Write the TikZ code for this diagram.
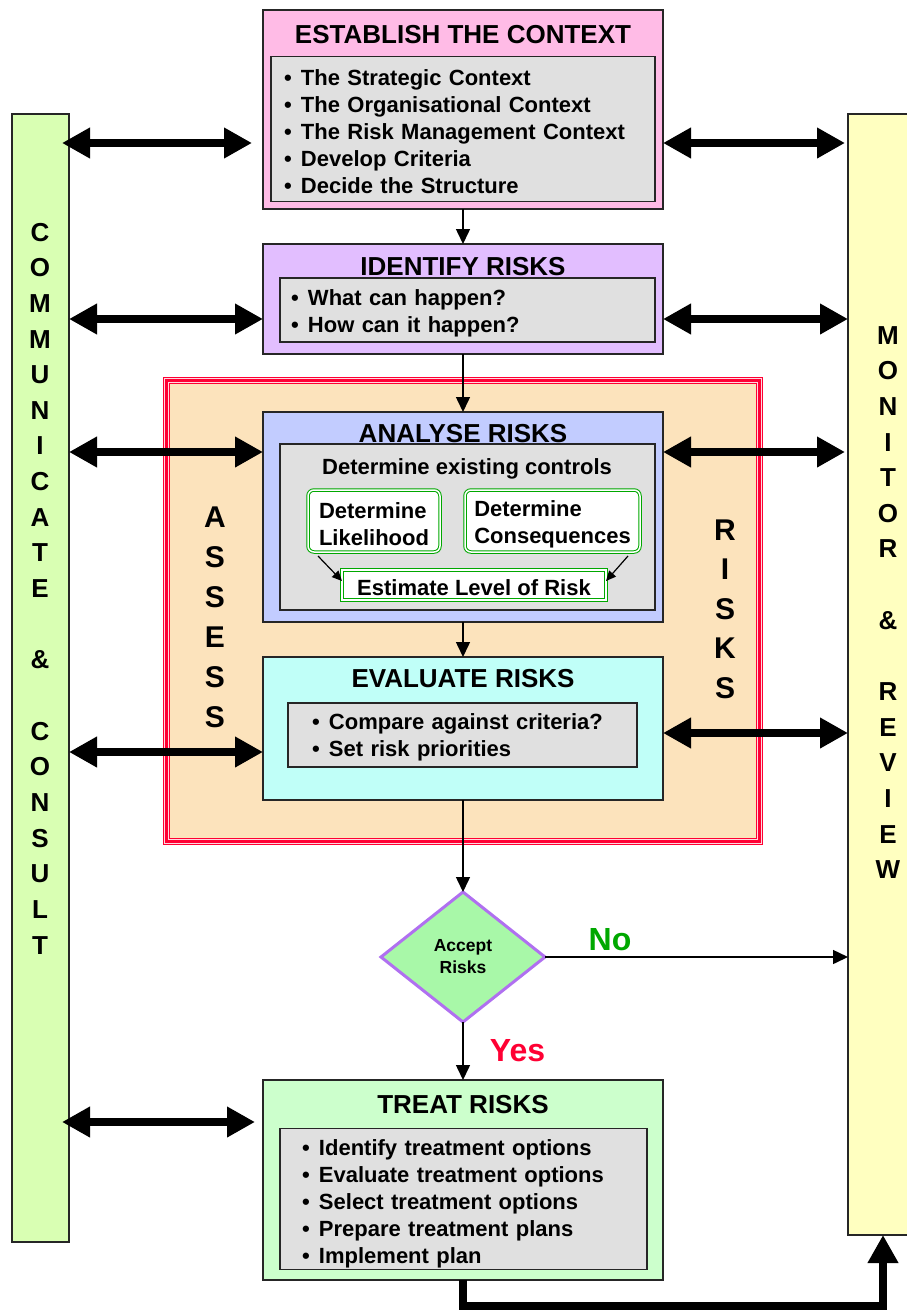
\documentclass[tikz,border=0pt]{standalone}
\usepackage{fontspec}
\setmainfont{Liberation Sans}
\usetikzlibrary{arrows.meta}
\usetikzlibrary{shapes.geometric}
\usetikzlibrary{positioning}
\definecolor{EstPink}{HTML}{FFBBE6}
\definecolor{IdLilac}{HTML}{E2BEFF}
\definecolor{AnBlue}{HTML}{C2CCFF}
\definecolor{EvCyan}{HTML}{C0FFF8}
\definecolor{TrGreen}{HTML}{CCFFCC}
\definecolor{AsBeige}{HTML}{FCE3BC}
\definecolor{ListGray}{HTML}{E0E0E0}
\definecolor{ComGreen}{HTML}{D9FFB3}
\definecolor{MonYellow}{HTML}{FFFFC0}
\definecolor{FrameRed}{HTML}{FF0033}
\definecolor{DiaGreen}{HTML}{A8F8A8}
\definecolor{DiaPurple}{HTML}{B070F0}
\definecolor{BoxGreen}{HTML}{00A800}
\newcommand{\bul}{\makebox[17pt][l]{\textbullet}}

\begin{document}
\begin{tikzpicture}[x=1pt, y=-1pt,
  every node/.style={outer sep=0pt},
  stage/.style={rectangle, draw=black!85, line width=1.5pt, inner sep=0pt},
  title/.style={font=\fontsize{26}{30}\selectfont\bfseries},
  listbox/.style={rectangle, draw=black!85, line width=1.5pt, fill=ListGray, inner ysep=0pt, align=left, font=\fontsize{22}{27}\selectfont\bfseries},
  stepbox/.style={rectangle, rounded corners=6pt, draw=BoxGreen, double=white, double distance=1.5pt, line width=1pt, align=left, font=\fontsize{22}{27}\selectfont\bfseries},
  column/.style={rectangle, draw=black!85, line width=1.2pt},
  vletters/.style={align=center, font=\fontsize{26}{35.65}\selectfont\bfseries},
  bigletters/.style={align=center, font=\fontsize{30}{40}\selectfont\bfseries},
  twoway/.style={line width=8pt, >={Triangle[length=28pt,width=29pt]}, <->},
  flow/.style={line width=1.5pt, -{Triangle[length=15pt,width=14pt]}},
  smallflow/.style={line width=1.2pt, -{Triangle[length=10pt,width=9pt]}}]
  \useasboundingbox (0,0) rectangle (906,1314);
  % side columns:
  \node [column, fill=ComGreen, minimum width=57pt, minimum height=1128pt] (com) at (40.5,678) {};
  \node [column, fill=MonYellow, minimum width=70pt, minimum height=1121pt] (mon) at (883,674.5) {};
  \node [vletters] (com-text) at (40,588.5) {C\\O\\M\\M\\U\\N\\I\\C\\A\\T\\E\\~\\\&\\~\\C\\O\\N\\S\\U\\L\\T};
  \node [vletters] (mon-text) at (888,602.5) {M\\O\\N\\I\\T\\O\\R\\~\\\&\\~\\R\\E\\V\\I\\E\\W};
  %
  % assess frame:
  \node [rectangle, fill=AsBeige, draw=FrameRed, line width=7pt, minimum width=593pt, minimum height=461pt] (frame) at (463,611) {};
  \draw [FrameRed!15, line width=0.7pt] ([shift={(-1.7,-1.7)}]frame.north west) rectangle ([shift={(1.7,1.7)}]frame.south east);
  \draw [FrameRed!15, line width=0.7pt] ([shift={(1.7,1.7)}]frame.north west) rectangle ([shift={(-1.7,-1.7)}]frame.south east);
  \node [bigletters] (assess-text) at (215,617) {A\\S\\S\\E\\S\\S};
  \node [bigletters, font=\fontsize{30}{39.5}\selectfont\bfseries] (risks-text) at (725,609) {R\\I\\S\\K\\S};
  %
  % establish:
  \node [stage, fill=EstPink, minimum width=400pt, minimum height=199pt] (est) at (463,109.5) {};
  \node [title] (est-title) at (463,35) {ESTABLISH THE CONTEXT};
  \node [listbox, minimum width=384pt, minimum height=145pt, text width=358pt, inner xsep=13pt] (est-list) at (463,129) {\rule{0pt}{22pt}\bul The Strategic Context\\ \bul The Organisational Context\\ \bul The Risk Management Context\\ \bul Develop Criteria\\ \bul Decide the Structure};
  %
  % identify:
  \node [stage, fill=IdLilac, minimum width=400pt, minimum height=110pt] (idf) at (463,299) {};
  \node [title] (idf-title) at (463,267) {IDENTIFY RISKS};
  \node [listbox, minimum width=375pt, minimum height=64pt, text width=353pt, inner xsep=11pt] (idf-list) at (467.5,310) {\rule{0pt}{22pt}\bul What can happen?\\ \bul How can it happen?};
  %
  % analyse:
  \node [stage, fill=AnBlue, minimum width=400pt, minimum height=210pt] (ana) at (463,517) {};
  \node [title] (ana-title) at (463,434) {ANALYSE RISKS};
  \node [listbox, minimum width=375pt, minimum height=166pt] (ana-list) at (467.5,527) {};
  \node [font=\fontsize{22}{27}\selectfont\bfseries] (controls) at (467,468.5) {Determine existing controls};
  \node [stepbox, fill=white, minimum width=132pt, minimum height=62pt] (lik) at (374,521) {\rule{0pt}{22pt}Determine\\Likelihood};
  \node [stepbox, fill=white, minimum width=175pt, minimum height=62pt] (con) at (552.5,521) {\rule{0pt}{22pt}Determine\\Consequences};
  \node [stepbox, sharp corners, fill=white, minimum width=264pt, minimum height=30pt, inner ysep=0pt] (estm) at (474,585) {\rule{0pt}{22pt}Estimate Level of Risk};
  \draw [smallflow] ([xshift=10pt,yshift=-4pt]lik.south west) -- ([yshift=4pt]estm.west);
  \draw [smallflow] ([xshift=-12pt,yshift=-4pt]con.south east) -- ([yshift=4pt]estm.east);
  %
  % evaluate:
  \node [stage, fill=EvCyan, minimum width=400pt, minimum height=143pt] (eva) at (463,728.5) {};
  \node [title] (eva-title) at (463,679) {EVALUATE RISKS};
  \node [listbox, minimum width=349pt, minimum height=64pt, text width=301pt, inner xsep=24pt] (eva-list) at (462.5,735) {\rule{0pt}{20pt}\bul Compare against criteria?\\ \bul Set risk priorities};
  %
  % decision:
  \node [diamond, fill=DiaGreen, draw=DiaPurple, line width=3pt, inner sep=0pt, minimum width=164pt, minimum height=130pt, align=center, font=\fontsize{17.5}{22}\selectfont\bfseries] (acc) at (463,957) {Accept\\Risks};
  \node [font=\fontsize{32}{36}\selectfont\bfseries, text=BoxGreen] (no-label) at (610,940) {No};
  \node [font=\fontsize{32}{36}\selectfont\bfseries, text=FrameRed] (yes-label) at (517.5,1051) {Yes};
  %
  % treat:
  \node [stage, fill=TrGreen, minimum width=400pt, minimum height=200pt] (trt) at (463,1180) {};
  \node [title] (trt-title) at (463,1105) {TREAT RISKS};
  \node [listbox, minimum width=367pt, minimum height=141pt, text width=323pt, inner xsep=22pt] (trt-list) at (463.5,1199) {\rule{0pt}{25pt}\bul Identify treatment options\\ \bul Evaluate treatment options\\ \bul Select treatment options\\ \bul Prepare treatment plans\\ \bul Implement plan};
  %
  % flow arrows:
  \draw [flow] (est.south) -- (idf.north);
  \draw [flow] (idf.south) -- (ana.north);
  \draw [flow] (ana.south) -- (eva.north);
  \draw [flow] (eva.south) -- (acc.north);
  \draw [flow] (acc.south) -- (trt.north);
  \draw [flow] (acc.east) -- (acc.east -| mon.west);
  \draw [line width=8pt, -{Triangle[length=28pt,width=29pt]}] (trt.south) -- ++(0,26) -| (mon.south);
  %
  % two-way arrows:
  \coordinate (row1) at (0,143);
  \coordinate (row2) at (0,319);
  \coordinate (row3) at (0,452);
  \coordinate (row4) at (0,752);
  \coordinate (row4r) at (0,733);
  \coordinate (row5) at (0,1122);
  \draw [twoway, shorten <=-7pt, shorten >=11pt] (com.east |- row1) -- (est.west |- row1);
  \draw [twoway] (com.east |- row2) -- (idf.west |- row2);
  \draw [twoway] (com.east |- row3) -- (ana.west |- row3);
  \draw [twoway] (com.east |- row4) -- (eva.west |- row4);
  \draw [twoway, shorten <=-7pt, shorten >=8pt] (com.east |- row5) -- (trt.west |- row5);
  \draw [twoway, shorten >=3pt] (est.east |- row1) -- (mon.west |- row1);
  \draw [twoway] (idf.east |- row2) -- (mon.west |- row2);
  \draw [twoway, shorten >=3pt] (ana.east |- row3) -- (mon.west |- row3);
  \draw [twoway] (eva.east |- row4r) -- (mon.west |- row4r);
\end{tikzpicture}
\end{document}
